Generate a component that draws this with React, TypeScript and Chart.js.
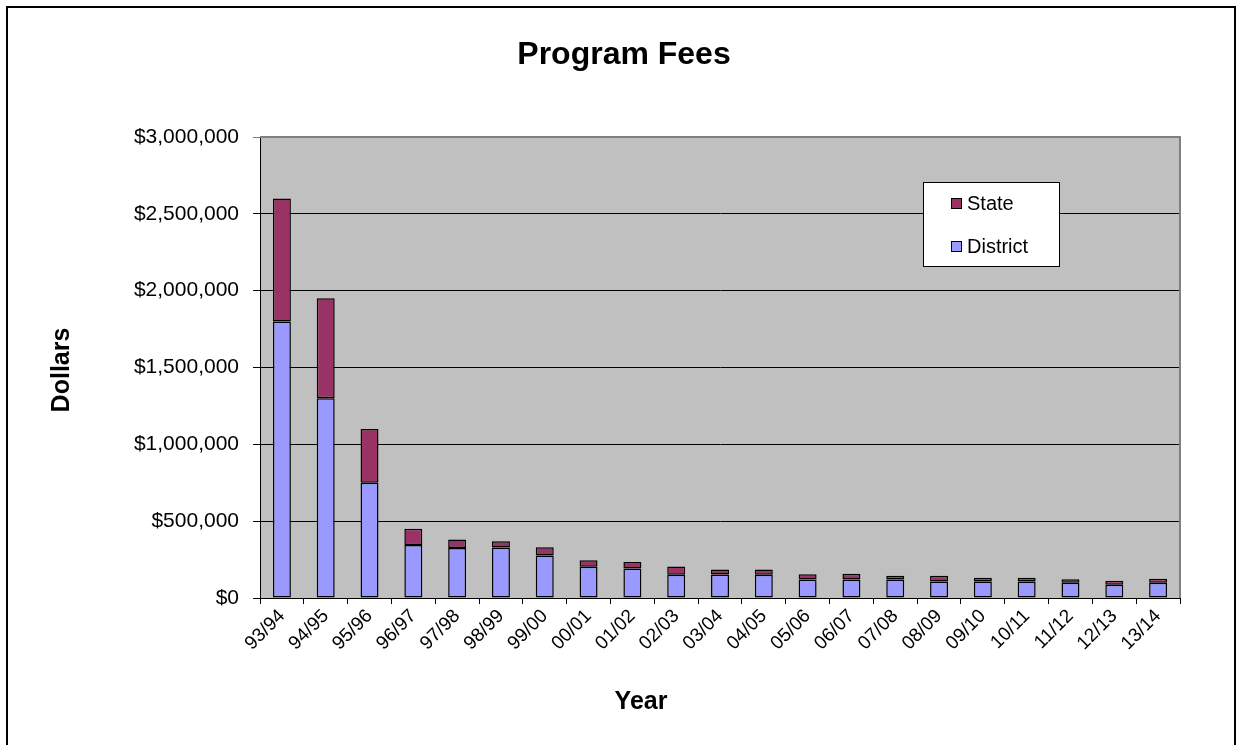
import React, { useEffect, useRef } from 'react';
import { Chart, registerables } from 'chart.js';

Chart.register(...registerables);

const FONT = '"Liberation Sans", Arial, Helvetica, sans-serif';

const categories = [
  '93/94', '94/95', '95/96', '96/97', '97/98', '98/99', '99/00', '00/01', '01/02', '02/03',
  '03/04', '04/05', '05/06', '06/07', '07/08', '08/09', '09/10', '10/11', '11/12', '12/13', '13/14',
];

const districtValues = [
  1800000, 1300000, 750000, 345000, 325000, 328000, 276000, 203000, 192000, 151000,
  153000, 152000, 120000, 120000, 120000, 107000, 107000, 107000, 99000, 86000, 99000,
];

const stateValues = [
  800000, 650000, 350000, 105000, 55000, 41000, 54000, 43000, 43000, 54000,
  32000, 33000, 35000, 37000, 24000, 37000, 24000, 24000, 23000, 26000, 26000,
];

const yTickValues = [0, 500000, 1000000, 1500000, 2000000, 2500000, 3000000];

const districtName = 'District';
const stateName = 'State';
const districtColor = '#9999FF';
const stateColor = '#993366';

const titleText = 'Program Fees';
const xTitle = 'Year';
const yTitle = 'Dollars';

const fmtDollar = (v: number) => '$' + Math.round(v).toLocaleString('en-US');

const framePlugin = {
  id: 'excelFrame',
  beforeDraw(chart: any) {
    const { ctx, chartArea: a, width, height } = chart;
    ctx.save();
    ctx.fillStyle = '#ffffff';
    ctx.fillRect(0, 0, width, height);
    ctx.fillStyle = '#C0C0C0';
    ctx.fillRect(a.left, a.top, a.right - a.left, a.bottom - a.top);
    ctx.strokeStyle = '#000000';
    ctx.lineWidth = 2;
    ctx.strokeRect(7, 7, 1228, height + 10);
    ctx.restore();
  },
  afterDraw(chart: any) {
    const { ctx, chartArea: a } = chart;
    ctx.save();
    // grey plot border (top/right)
    ctx.strokeStyle = '#808080';
    ctx.lineWidth = 2;
    ctx.beginPath();
    ctx.moveTo(a.left, a.top);
    ctx.lineTo(a.right, a.top);
    ctx.lineTo(a.right, a.bottom);
    ctx.stroke();

    // titles
    ctx.fillStyle = '#000';
    ctx.textAlign = 'center';
    ctx.textBaseline = 'middle';
    ctx.font = `bold 32px ${FONT}`;
    ctx.fillText(titleText, 624, 55);
    ctx.font = `bold 25px ${FONT}`;
    ctx.fillText(xTitle, 641, 702);
    ctx.save();
    ctx.translate(62, 370);
    ctx.rotate(-Math.PI / 2);
    ctx.fillText(yTitle, 0, 0);
    ctx.restore();

    // legend box
    const lx = 923, ly = 182, lw = 136, lh = 84;
    ctx.fillStyle = '#ffffff';
    ctx.fillRect(lx, ly, lw, lh);
    ctx.strokeStyle = '#000000';
    ctx.lineWidth = 1;
    ctx.strokeRect(lx + 0.5, ly + 0.5, lw, lh);
    const entries = [
      { name: stateName, color: stateColor, cy: 203 },
      { name: districtName, color: districtColor, cy: 246 },
    ];
    ctx.font = `20px ${FONT}`;
    ctx.textBaseline = 'middle';
    ctx.textAlign = 'left';
    for (const e of entries) {
      ctx.fillStyle = e.color;
      ctx.fillRect(951, e.cy - 5, 10, 10);
      ctx.strokeStyle = '#000';
      ctx.strokeRect(951.5, e.cy - 4.5, 10, 10);
      ctx.fillStyle = '#000';
      ctx.fillText(e.name, 967, e.cy + 1);
    }
    ctx.restore();
  },
};

export default function App() {
  const ref = useRef<HTMLCanvasElement | null>(null);

  useEffect(() => {
    if (!ref.current) return;
    const barStyle = {
      borderColor: '#000000',
      borderWidth: 1.5,
      borderSkipped: false,
      barPercentage: 0.41,
      categoryPercentage: 1,
    };
    const chart = new Chart(ref.current, {
      type: 'bar',
      data: {
        labels: categories,
        datasets: [
          { label: districtName, data: districtValues, backgroundColor: districtColor, ...barStyle },
          { label: stateName, data: stateValues, backgroundColor: stateColor, ...barStyle },
        ],
      },
      options: {
        responsive: false,
        animation: false,
        devicePixelRatio: 1,
        layout: { padding: { left: 0, right: 58, top: 137, bottom: 0 } },
        plugins: {
          legend: { display: false },
          tooltip: { enabled: false },
          title: { display: false },
        },
        scales: {
          x: {
            stacked: true,
            afterFit: (s: any) => { s.height = 147; },
            border: { display: true, color: '#000', width: 1 },
            grid: {
              display: true,
              offset: true,
              drawOnChartArea: false,
              drawTicks: true,
              tickLength: 6,
              color: '#000',
            },
            ticks: {
              color: '#000',
              font: { family: FONT, size: 19 },
              minRotation: 45,
              maxRotation: 45,
              autoSkip: false,
              padding: 1,
            },
            title: { display: false },
          },
          y: {
            stacked: true,
            min: 0,
            max: 3000000,
            afterFit: (s: any) => { s.width = 260; },
            afterBuildTicks: (s: any) => { s.ticks = yTickValues.map((v) => ({ value: v })); },
            border: { display: true, color: '#000', width: 1 },
            grid: {
              color: (c: any) => (c.tick && c.tick.value === 3000000 ? '#808080' : '#000'),
              lineWidth: 1,
              drawTicks: true,
              tickLength: 7,
            },
            ticks: {
              color: '#000',
              font: { family: FONT, size: 21 },
              padding: 14,
              callback: (v: any) => fmtDollar(Number(v)),
            },
            title: { display: false },
          },
        },
      } as any,
      plugins: [framePlugin],
    });
    return () => chart.destroy();
  }, []);

  return (
    <div style={{ position: 'fixed', left: 0, top: 0, width: 1238, height: 745, background: '#fff' }}>
      <canvas ref={ref} width={1238} height={745} style={{ display: 'block', width: 1238, height: 745 }} />
    </div>
  );
}
